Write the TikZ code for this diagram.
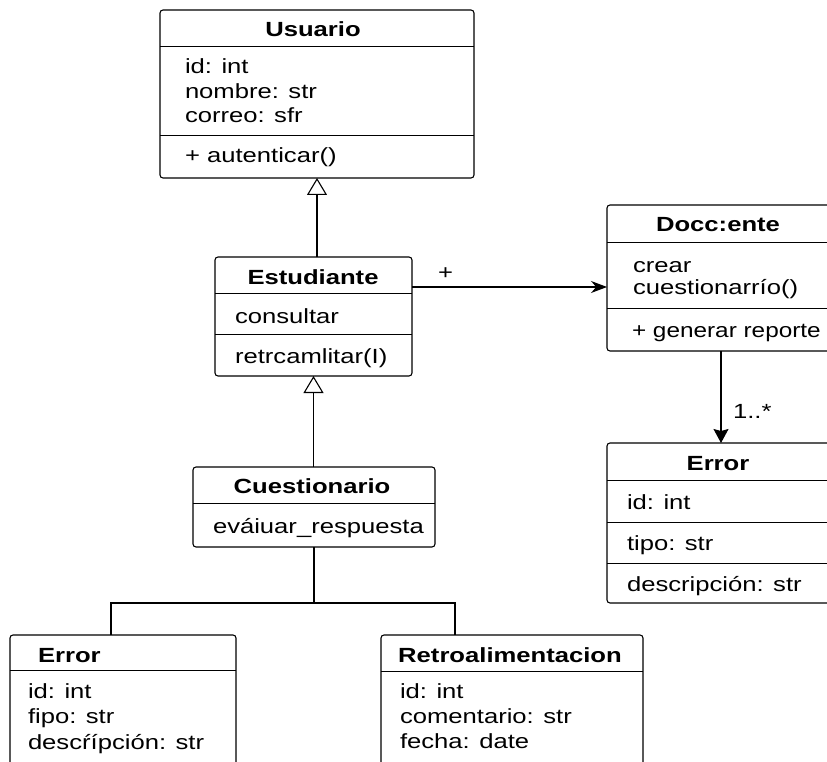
\documentclass[tikz,border=0pt]{standalone}
\usepackage{fontspec}
\setmainfont{Liberation Sans}[FakeStretch=1.25]
\usetikzlibrary{arrows.meta}
\begin{document}
\begin{tikzpicture}[x=1pt,y=-1pt,
 box/.style={draw, line width=1.1pt, rounded corners=3pt, inner sep=0pt, outer sep=0pt, anchor=north west, fill=white},
 sep/.style={line width=1pt},
 txt/.style={inner sep=0pt, outer sep=0pt, font=\fontsize{20.5}{24}\selectfont, anchor=base west},
 ttl/.style={inner sep=0pt, outer sep=0pt, font=\fontsize{20.5}{24}\selectfont\bfseries, anchor=base},
 conn/.style={line width=1.1pt},
]
\useasboundingbox (0,0) rectangle (827,762);
\begin{scope}
\clip (0,0) rectangle (827,762);
% boxes
\node[box, minimum width=314pt, minimum height=168pt] (usu) at (160,10) {};
\node[box, minimum width=197pt, minimum height=119pt] (est) at (215,257) {};
\node[box, minimum width=228pt, minimum height=146pt] (doc) at (607,205) {};
\node[box, minimum width=228pt, minimum height=160pt] (errR) at (607,443) {};
\node[box, minimum width=242pt, minimum height=80pt] (cue) at (193,467) {};
\node[box, minimum width=226pt, minimum height=170pt] (errL) at (10,635) {};
\node[box, minimum width=262pt, minimum height=170pt] (ret) at (381,635) {};
% separators
\draw[sep] (160,47) -- (474,47);
\draw[sep] (160,136) -- (474,136);
\draw[sep] (215,293) -- (412,293);
\draw[sep] (215,334) -- (412,334);
\draw[sep] (607,242) -- (835,242);
\draw[sep] (607,308) -- (835,308);
\draw[sep] (607,480) -- (835,480);
\draw[sep] (607,522) -- (835,522);
\draw[sep] (607,563) -- (835,563);
\draw[sep] (193,503) -- (435,503);
\draw[sep] (10,670) -- (236,670);
\draw[sep] (381,671) -- (643,671);
% Usuario texts
\node[ttl] (usuT) at (313,37) {Usuario};
\node[txt] (usu1) at (185,74) {id: int};
\node[txt] (usu2) at (185,99) {nombre: str};
\node[txt] (usu3) at (185,123) {correo: sfr};
\node[txt] (usu4) at (185,163) {+ autenticar()};
% Estudiante
\node[ttl] (estT) at (313,284) {Estudiante};
\node[txt] (est1) at (235,323) {consultar};
\node[txt] (est2) at (235,363) {retrcamlitar(I)};
% Docente
\node[ttl] (docT) at (718,232) {Docc:ente};
\node[txt] (doc1) at (633,272) {crear};
\node[txt] (doc2) at (633,294) {cuestionarrío()};
\node[txt] (doc3) at (632,337) {\scalebox{0.95}[1]{+ generar reporte}};
% Error right
\node[ttl] (errRT) at (718,470) {Error};
\node[txt] (errR1) at (627,509) {id: int};
\node[txt] (errR2) at (627,550) {tipo: str};
\node[txt] (errR3) at (627,591) {descripción: str};
% Cuestionario
\node[ttl] (cueT) at (312,493) {Cuestionario};
\node[txt] (cue1) at (213,533) {eváiuar\_respuesta};
% Error left
\node[ttl, anchor=base west] (errLT) at (38,662) {Error};
\node[txt] (errL1) at (28,698) {id: int};
\node[txt] (errL2) at (28,723) {fipo: str};
\node[txt] (errL3) at (28,749) {descŕípción: str};
% Retroalimentacion
\node[ttl] (retT) at (510,662) {Retroalimentacion};
\node[txt] (ret1) at (400,698) {id: int};
\node[txt] (ret2) at (400,723) {comentario: str};
\node[txt] (ret3) at (400,748) {fecha: date};
% connectors
\draw[conn, -{Triangle[open, length=17pt, width=20pt, line width=1.1pt]}] (est.north -| usu.south) -- (usu.south);
\draw[conn, -{Triangle[open, length=17pt, width=20pt, line width=1.1pt]}] (cue.north -| est.south) -- (est.south);
\draw[conn, -{Stealth[length=16pt, width=12pt]}] ([yshift=29.5pt]est.east) -- ([yshift=29.5pt]est.east -| doc.west);
\node[txt] (plus) at (438,279) {+};
\draw[conn, -{Stealth[length=14pt, width=15pt, inset=2pt]}] (doc.south) -- (errR.north);
\node[txt] (mult) at (733,418) {1..*};
\coordinate (jn) at (314,603);
\draw[conn] (cue.south) -- (jn);
\draw[conn] (jn) -| ([xshift=101pt]errL.north west);
\draw[conn] (jn) -| ([xshift=74pt]ret.north west);
\end{scope}
\end{tikzpicture}
\end{document}
